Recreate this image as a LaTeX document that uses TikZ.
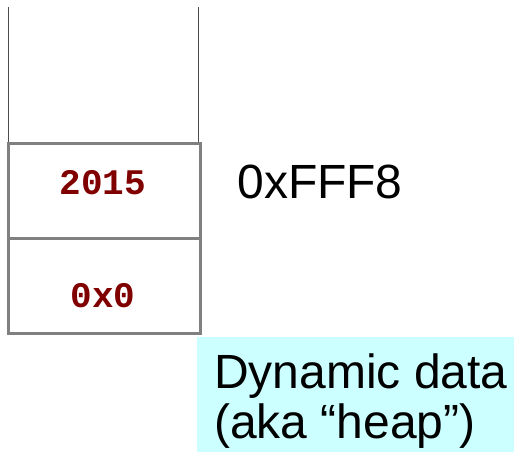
\documentclass[tikz,border=0pt]{standalone}
\usepackage{fontspec}
\setmainfont{Liberation Sans}
\newfontfamily\codefont{Liberation Mono}
\definecolor{valred}{RGB}{128,0,0}
\definecolor{cellgray}{RGB}{128,128,128}
\definecolor{heapcyan}{RGB}{204,255,255}
\tikzset{
  cell/.style={draw=cellgray, line width=3pt},
  val/.style={text=valred, font=\codefont\bfseries\fontsize{36}{40}\selectfont, inner sep=0pt, anchor=base},
  big/.style={font=\fontsize{48}{50}\selectfont, inner sep=0pt}
}

\begin{document}
\begin{tikzpicture}[x=1pt,y=-1pt]
    \useasboundingbox (0,0) rectangle (514,452);
    % stack walls going up
    \draw[line width=1pt, black!70] (8.5,7) -- (8.5,143);
    \draw[line width=1pt, black!70] (198,7) -- (198,143);
    % the two cells
    \draw[cell] (8.5,143) rectangle (200,238);
    \draw[cell] (8.5,238) rectangle (200,333);
    \node[val] (year) at (103,194) {2015};
    \node[val] (nullptr) at (103,307) {0x0};
    \node[big, anchor=base] (addr) at (320,198) {0xFFF8};
    % heap
    \fill[heapcyan] (197,337) rectangle (514,452);
    \node[big, anchor=base west, align=left] (heap) at (214,438) {Dynamic data\\(aka “heap”)};
\end{tikzpicture}
\end{document}
